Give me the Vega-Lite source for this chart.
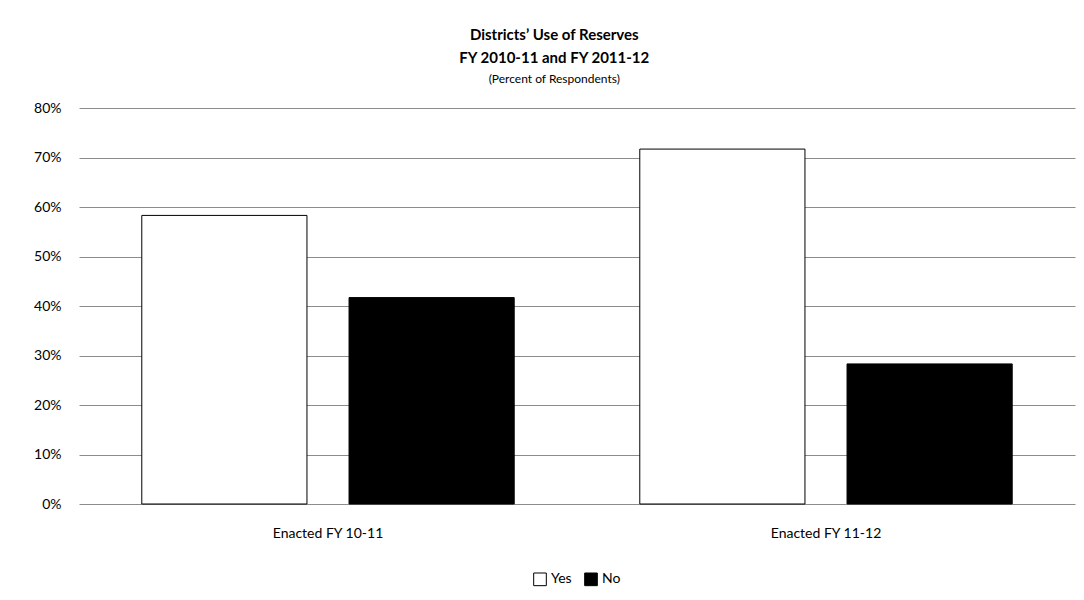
{
  "$schema": "https://vega.github.io/schema/vega-lite/v6.json",
  "width": 1084,
  "height": 600,
  "autosize": {"type": "fit", "contains": "padding"},
  "padding": {"left": 33, "right": 9, "top": 28, "bottom": 12},
  "background": "white",
  "title": {
    "text": ["Districts’ Use of Reserves", "FY 2010-11 and FY 2011-12"],
    "subtitle": "(Percent of Respondents)",
    "font": "Lato",
    "fontSize": 15,
    "fontWeight": "bold",
    "lineHeight": 23,
    "subtitleFont": "Lato",
    "subtitleFontSize": 12,
    "subtitlePadding": 8,
    "color": "black",
    "subtitleColor": "black",
    "anchor": "middle",
    "frame": "bounds",
    "offset": 16
  },
  "data": {
    "values": [
      {"period": "Enacted FY 10-11", "answer": "Yes", "pct": 0.583},
      {"period": "Enacted FY 10-11", "answer": "No", "pct": 0.417},
      {"period": "Enacted FY 11-12", "answer": "Yes", "pct": 0.717},
      {"period": "Enacted FY 11-12", "answer": "No", "pct": 0.283}
    ]
  },
  "mark": {"type": "bar", "stroke": "black", "strokeWidth": 1},
  "encoding": {
    "x": {
      "field": "period",
      "type": "nominal",
      "title": null,
      "scale": {"paddingInner": 0, "paddingOuter": 0},
      "axis": {
        "labelAngle": 0,
        "ticks": false,
        "domain": false,
        "labelFont": "Lato",
        "labelFontSize": 14,
        "labelColor": "black",
        "labelPadding": 22
      }
    },
    "xOffset": {
      "field": "answer",
      "type": "nominal",
      "sort": ["Yes", "No"],
      "scale": {"paddingInner": 0.203, "paddingOuter": 0.303}
    },
    "y": {
      "field": "pct",
      "type": "quantitative",
      "title": null,
      "scale": {"domain": [0, 0.8]},
      "axis": {
        "values": [0, 0.1, 0.2, 0.3, 0.4, 0.5, 0.6, 0.7, 0.8],
        "format": ".0%",
        "domain": false,
        "ticks": false,
        "grid": true,
        "gridColor": "#8c8c8c",
        "gridWidth": 1,
        "labelFont": "Lato",
        "labelFontSize": 14,
        "labelColor": "black",
        "labelPadding": 18
      }
    },
    "fill": {
      "field": "answer",
      "type": "nominal",
      "sort": ["Yes", "No"],
      "scale": {"domain": ["Yes", "No"], "range": ["white", "black"]},
      "legend": {
        "title": null,
        "orient": "bottom",
        "direction": "horizontal",
        "symbolType": "square",
        "symbolSize": 160,
        "symbolStrokeColor": "black",
        "symbolStrokeWidth": 1,
        "labelFont": "Lato",
        "labelFontSize": 14,
        "labelColor": "black",
        "columnPadding": 10,
        "offset": 32
      }
    }
  },
  "config": {
    "view": {"stroke": null},
    "legend": {"layout": {"bottom": {"anchor": "middle"}}}
  }
}
